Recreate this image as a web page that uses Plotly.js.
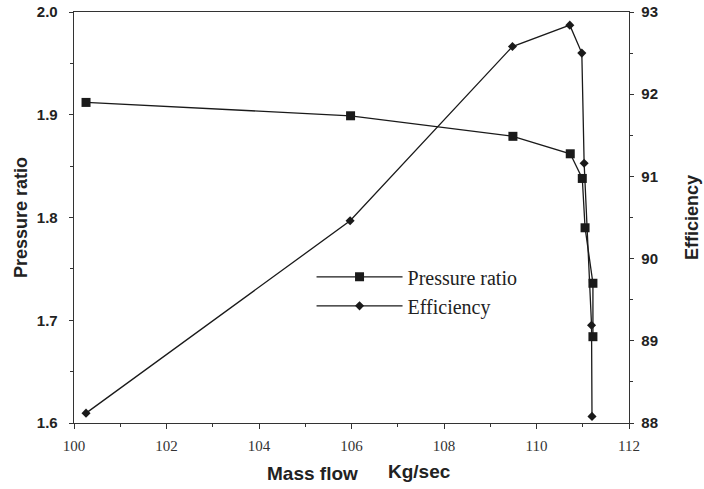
<!DOCTYPE html>
<html>
<head>
<meta charset="utf-8">
<script src="https://cdn.plot.ly/plotly-3.0.1.min.js"></script>
<style>html,body{margin:0;padding:0;background:#fff;}#chart{width:704px;height:489px;}</style>
</head>
<body>
<div id="chart"></div>
<script>
var massFlowPR = [100.26, 105.98, 109.49, 110.73, 110.99, 111.05, 111.22, 111.22];
var pressureRatio = [1.912, 1.899, 1.879, 1.862, 1.838, 1.790, 1.736, 1.684];
var massFlowEff = [100.26, 105.97, 109.48, 110.72, 110.98, 111.03, 111.19, 111.20];
var efficiency = [88.12, 90.46, 92.58, 92.84, 92.50, 91.16, 89.19, 88.08];
var xTicks = [100, 102, 104, 106, 108, 110, 112];
var yTicks = [1.6, 1.7, 1.8, 1.9, 2.0];
var y2Ticks = [88, 89, 90, 91, 92, 93];

var lineColor = '#1a1a1a';
var traces = [
  {x: massFlowPR, y: pressureRatio, name: 'Pressure ratio', type: 'scatter', mode: 'lines+markers',
   line: {color: lineColor, width: 1.3}, marker: {symbol: 'square', size: 9, color: lineColor}},
  {x: massFlowEff, y: efficiency, name: 'Efficiency', type: 'scatter', mode: 'lines+markers', yaxis: 'y2',
   line: {color: lineColor, width: 1.3}, marker: {symbol: 'diamond', size: 7, color: lineColor}}
];
var axisColor = '#333';
var sans = 'Liberation Sans, Arial, sans-serif';
var serif = 'Liberation Serif, Times New Roman, serif';
var layout = {
  width: 704, height: 489,
  margin: {l: 74, r: 75, t: 12, b: 66},
  paper_bgcolor: '#fff', plot_bgcolor: '#fff',
  showlegend: true,
  legend: {x: 0.428, y: 0.403, xanchor: 'left', yanchor: 'top', bgcolor: 'rgba(0,0,0,0)',
           font: {family: serif, size: 20, color: '#222'},
           itemwidth: 86, tracegroupgap: 0},
  xaxis: {range: [100, 112], tickvals: xTicks, ticks: 'outside', ticklen: 5, tickcolor: axisColor,
          showline: true, linecolor: axisColor, linewidth: 1.3, mirror: true, showgrid: false, zeroline: false,
          ticklabelstandoff: 4,
          tickfont: {family: serif, size: 15, color: '#333'},
          minor: {dtick: 1, ticks: 'outside', ticklen: 3, tickcolor: axisColor}},
  yaxis: {range: [1.6, 2.0], tickvals: yTicks, tickformat: '.1f', ticks: 'outside', ticklen: 4, tickcolor: axisColor,
          showline: true, linecolor: axisColor, linewidth: 1.3, showgrid: false, zeroline: false,
          ticklabelstandoff: 8,
          tickfont: {family: sans, size: 15, color: '#222', weight: 'bold'},
          minor: {dtick: 0.05, ticks: 'outside', ticklen: 3, tickcolor: axisColor},
          title: {text: 'Pressure ratio', standoff: 4,
                  font: {family: sans, size: 18, color: '#222', weight: 'bold'}}},
  yaxis2: {range: [88, 93], tickvals: y2Ticks, overlaying: 'y', side: 'right', ticks: 'outside', ticklen: 4, tickcolor: axisColor,
           showline: true, linecolor: axisColor, linewidth: 1.3, showgrid: false, zeroline: false,
           ticklabelstandoff: 4,
           tickfont: {family: sans, size: 15, color: '#222', weight: 'bold'},
           minor: {dtick: 0.5, ticks: 'outside', ticklen: 3, tickcolor: axisColor},
           title: {text: 'Efficiency', standoff: 28,
                   font: {family: sans, size: 18, color: '#222', weight: 'bold'}}},
  annotations: [
    {text: 'Mass flow', xref: 'paper', yref: 'paper', x: 0.429, y: -0.122, xanchor: 'center', yanchor: 'middle', showarrow: false,
     font: {family: sans, size: 19, color: '#222', weight: 'bold'}},
    {text: 'Kg/sec', xref: 'paper', yref: 'paper', x: 0.6225, y: -0.117, xanchor: 'center', yanchor: 'middle', showarrow: false,
     font: {family: sans, size: 19, color: '#222', weight: 'bold'}}
  ]
};
Plotly.newPlot('chart', traces, layout, {displayModeBar: false, staticPlot: true});
</script>
</body>
</html>
